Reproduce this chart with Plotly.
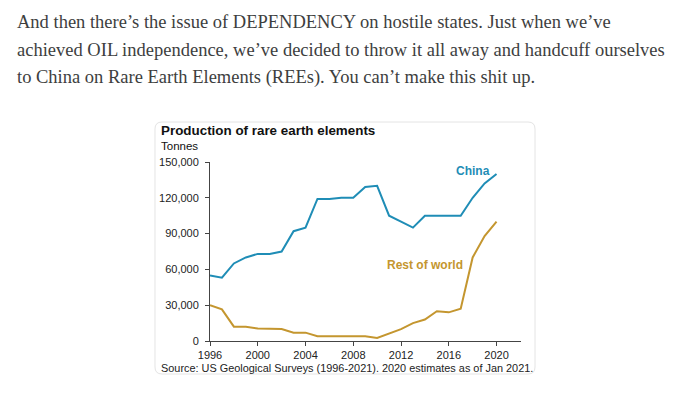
import plotly.graph_objects as go

years = list(range(1996, 2021))
china = [55000, 53000, 65000, 70000, 73000, 73000, 75000, 92000, 95000, 119000,
         119000, 120000, 120000, 129000, 130000, 105000, 100000, 95000, 105000, 105000,
         105000, 105000, 120000, 132000, 140000]
rest_of_world = [30000, 26500, 12000, 12000, 10500, 10500, 10000, 7000, 7000, 4000,
                 4000, 4000, 4000, 4000, 2500, 6000, 10000, 15000, 18000, 25000,
                 24000, 27000, 70000, 88000, 100000]
x_ticks = [1996, 2000, 2004, 2008, 2012, 2016, 2020]
y_ticks = [0, 30000, 60000, 90000, 120000, 150000]

paragraph = [
    "And then there’s the issue of DEPENDENCY on hostile states. Just when we’ve",
    "achieved OIL independence, we’ve decided to throw it all away and handcuff ourselves",
    "to China on Rare Earth Elements (REEs). You can’t make this shit up.",
]

OFF = 8  # page body margin
W, H = 676 - 2 * OFF, 393 - 2 * OFF
L, R, T, B = 210, 521, 162, 341  # plot area in screen pixels


def px(x):
    return (x - L) / (R - L)


def py(y):
    return (B - y) / (B - T)


BLUE = "#1f8db6"
GOLD = "#c4962f"

fig = go.Figure()
fig.add_trace(go.Scatter(x=years, y=china, mode="lines", line=dict(color=BLUE, width=2),
                         name="China", hoverinfo="skip"))
fig.add_trace(go.Scatter(x=years, y=rest_of_world, mode="lines", line=dict(color=GOLD, width=2),
                         name="Rest of world", hoverinfo="skip"))

cx0, cx1, cy0, cy1 = 155, 535, 122, 374
rad = 7
path = (f"M {cx0+rad},{cy0} L {cx1-rad},{cy0} Q {cx1},{cy0} {cx1},{cy0+rad} "
        f"L {cx1},{cy1-rad} Q {cx1},{cy1} {cx1-rad},{cy1} L {cx0+rad},{cy1} "
        f"Q {cx0},{cy1} {cx0},{cy1-rad} L {cx0},{cy0+rad} Q {cx0},{cy0} {cx0+rad},{cy0} Z")


def conv_path(p):
    out = []
    for tok in p.split(" "):
        if "," in tok:
            a, b = tok.split(",")
            out.append(f"{px(float(a)):.5f},{py(float(b)):.5f}")
        else:
            out.append(tok)
    return " ".join(out)


shapes = [dict(type="path", xref="paper", yref="paper", path=conv_path(path),
               line=dict(color="#e4e4e4", width=1), fillcolor="white", layer="below")]

annotations = []
para_y = [22.2, 49.6, 77.0]
for line, yy in zip(paragraph, para_y):
    annotations.append(dict(text=line, xref="paper", yref="paper", x=px(15), y=py(yy),
                            xanchor="left", yanchor="middle", showarrow=False,
                            font=dict(family="Liberation Serif", size=18.5, color="#3d3e3e")))

sans = "Liberation Sans, Arial"
annotations += [
    dict(text="<b>Production of rare earth elements</b>", xref="paper", yref="paper",
         x=px(159), y=py(130), xanchor="left", yanchor="middle", showarrow=False,
         font=dict(family=sans, size=13.4, color="#111")),
    dict(text="Tonnes", xref="paper", yref="paper", x=px(159), y=py(146),
         xanchor="left", yanchor="middle", showarrow=False,
         font=dict(family=sans, size=11.5, color="#111")),
    dict(text="Source: US Geological Surveys (1996-2021). 2020 estimates as of Jan 2021.",
         xref="paper", yref="paper", x=px(159), y=py(368), xanchor="left", yanchor="middle",
         showarrow=False, font=dict(family=sans, size=10.9, color="#222")),
    dict(text="<b>China</b>", x=2018.0, y=142300, xanchor="center", yanchor="middle",
         showarrow=False, font=dict(family=sans, size=12, color=BLUE)),
    dict(text="<b>Rest of world</b>", x=2014.0, y=63900, xanchor="center", yanchor="middle",
         showarrow=False, font=dict(family=sans, size=12, color=GOLD)),
]

fig.update_layout(
    width=W, height=H,
    margin=dict(l=L - OFF, r=W - (R - OFF), t=T - OFF, b=H - (B - OFF), pad=0),
    paper_bgcolor="white",
    plot_bgcolor="#e5f2f4",
    showlegend=False,
    shapes=shapes,
    annotations=annotations,
    xaxis=dict(range=[1996, 2022.05], tickvals=x_ticks, showgrid=False, zeroline=False,
               showline=True, linecolor="#444", linewidth=1, ticks="outside", ticklen=4,
               tickcolor="#444", tickfont=dict(family=sans, size=11, color="#222")),
    yaxis=dict(range=[0, 150000], tickvals=y_ticks, tickformat=",d", showgrid=True,
               gridcolor="white", gridwidth=1.5, zeroline=False, showline=True,
               linecolor="#444", linewidth=1, ticks="outside", ticklen=4, tickcolor="#444",
               ticklabelstandoff=4, tickfont=dict(family=sans, size=11, color="#222")),
)

fig.write_html("out.html")
